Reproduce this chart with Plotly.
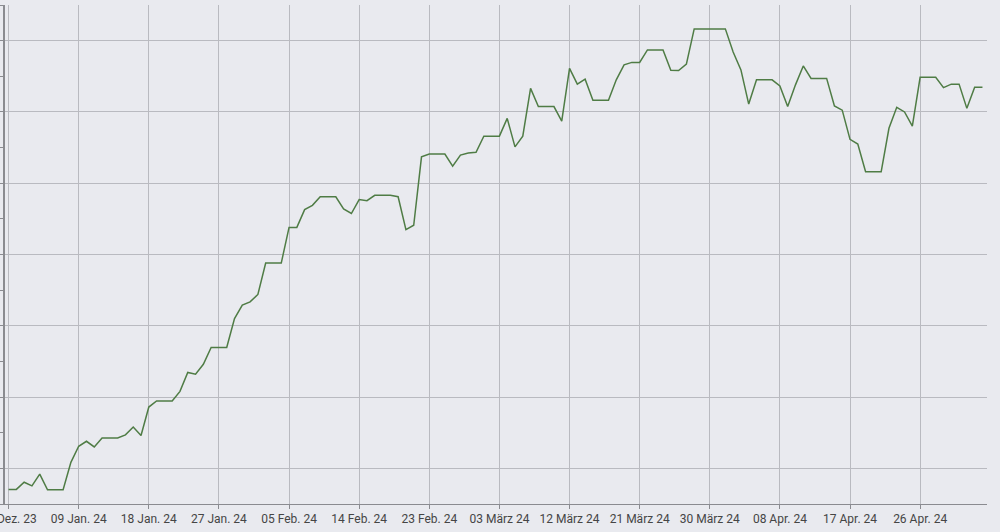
import pandas as pd
import plotly.graph_objects as go

start_date = "2023-12-31"
values = [
    0.41, 0.41, 0.61, 0.51, 0.84, 0.40, 0.40, 0.40, 1.17, 1.62,
    1.76, 1.60, 1.85, 1.85, 1.85, 1.94, 2.16, 1.92, 2.72, 2.89,
    2.89, 2.89, 3.16, 3.69, 3.64, 3.92, 4.39, 4.39, 4.39, 5.20,
    5.58, 5.67, 5.88, 6.76, 6.76, 6.76, 7.76, 7.76, 8.26, 8.38,
    8.62, 8.62, 8.62, 8.28, 8.15, 8.54, 8.51, 8.66, 8.66, 8.66,
    8.62, 7.70, 7.82, 9.74, 9.82, 9.82, 9.82, 9.48, 9.79, 9.85,
    9.87, 10.32, 10.32, 10.32, 10.82, 10.02, 10.32, 11.66, 11.15, 11.15,
    11.15, 10.74, 12.22, 11.78, 11.92, 11.33, 11.33, 11.33, 11.90, 12.32,
    12.39, 12.39, 12.74, 12.74, 12.74, 12.17, 12.16, 12.34, 13.33, 13.33,
    13.33, 13.33, 13.33, 12.68, 12.18, 11.22, 11.90, 11.90, 11.90, 11.73,
    11.15, 11.76, 12.29, 11.94, 11.94, 11.94, 11.17, 11.05, 10.23, 10.10,
    9.32, 9.32, 9.32, 10.54, 11.13, 11.00, 10.60, 11.97, 11.97, 11.97,
    11.68, 11.78, 11.78, 11.10, 11.69, 11.69,
]
dates = pd.date_range(start_date, periods=len(values), freq="D")

tick_dates = pd.date_range(start_date, periods=14, freq="9D")
tick_labels = [
    "31 Dez. 23", "09 Jan. 24", "18 Jan. 24", "27 Jan. 24", "05 Feb. 24",
    "14 Feb. 24", "23 Feb. 24", "03 März 24", "12 März 24", "21 März 24",
    "30 März 24", "08 Apr. 24", "17 Apr. 24", "26 Apr. 24",
]

bg = "#e9eaef"
grid = "#b9bac0"
axis_col = "#8a8b90"

fig = go.Figure()
fig.add_trace(go.Scatter(
    x=dates, y=values, mode="lines",
    line=dict(color="#4f7c45", width=1.5),
    hoverinfo="x+y", showlegend=False,
))

fig.update_layout(
    width=1000, height=532,
    margin=dict(l=5, r=13, t=5, b=28),
    paper_bgcolor=bg, plot_bgcolor=bg,
    font=dict(family="Roboto", size=12, color="#454545"),
)
fig.update_xaxes(
    range=["2023-12-30 13:00", "2024-05-04 14:00"],
    tickmode="array", tickvals=tick_dates, ticktext=tick_labels,
    showgrid=True, gridcolor=grid, gridwidth=1,
    showline=True, linecolor=axis_col, linewidth=1,
    ticks="outside", ticklen=4, tickcolor=axis_col,
    zeroline=False, automargin=False, ticklabeloverflow="allow",
)
fig.update_yaxes(
    range=[0, 14], tick0=1, dtick=2,
    showgrid=True, gridcolor=grid, gridwidth=1,
    showline=True, linecolor=axis_col, linewidth=1.5,
    ticks="outside", ticklen=4, tickcolor=axis_col,
    showticklabels=False, zeroline=False, automargin=False,
    minor=dict(dtick=1, tick0=0, ticks="outside", ticklen=3,
               tickcolor=axis_col, showgrid=False),
)

fig.write_html(
    "out.html",
    config={"displayModeBar": False},
    post_script="document.body.style.margin='0px';document.body.style.background='#e9eaef';",
)
